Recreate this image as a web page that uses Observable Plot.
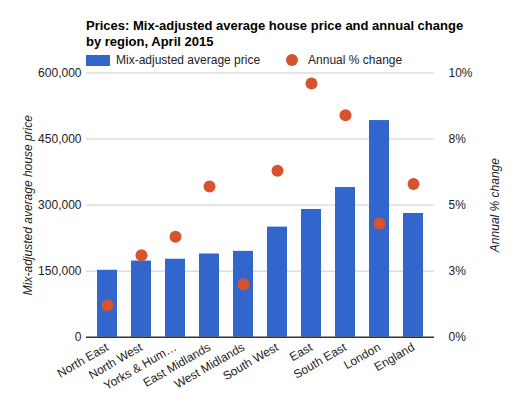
<!DOCTYPE html>
<html>
<head>
<meta charset="utf-8">
<script src="https://cdn.jsdelivr.net/npm/d3@7"></script>
<script src="https://cdn.jsdelivr.net/npm/@observablehq/plot@0.6"></script>
<style>
  html, body { margin: 0; padding: 0; background: #fff; }
  #wrap { position: relative; width: 525px; height: 397px; font-family: Arial, "Liberation Sans", sans-serif; color: #222; }
  #title { position: absolute; left: 86px; top: 18px; font-size: 13px; font-weight: bold; line-height: 16px; color: #000; }
  #legend { position: absolute; left: 86px; top: 52px; font-size: 12px; color: #222; display: flex; align-items: center; height: 16px; }
  .sw { display: inline-block; }
  #chart { position: absolute; left: 0; top: 0; }
</style>
</head>
<body>
<div id="wrap">
  <div id="chart"></div>
  <div id="title">Prices: Mix-adjusted average house price and annual change<br>by region, April 2015</div>
  <div id="legend">
    <span class="sw" style="width:24px;height:11px;background:#3366cc;margin-right:6px"></span>
    <span>Mix-adjusted average price</span>
    <span class="sw" style="width:12px;height:12px;border-radius:50%;background:#d6532e;margin-left:26px;margin-right:10px"></span>
    <span>Annual % change</span>
  </div>
</div>
<script>
const regions = ["North East", "North West", "Yorks & Hum…", "East Midlands", "West Midlands", "South West", "East", "South East", "London", "England"];
const avgPrice = [152000, 173000, 177000, 189000, 195000, 250000, 290000, 340000, 492000, 281000];
const annualChange = [1.2, 3.1, 3.8, 5.7, 2.0, 6.3, 9.6, 8.4, 4.3, 5.8];
const priceTicks = [0, 150000, 300000, 450000, 600000];

// right axis: 10% corresponds to 600,000 on the left axis
const pctToPrice = 60000;

const data = regions.map((r, i) => ({region: r, price: avgPrice[i], pct: annualChange[i]}));

const chart = Plot.plot({
  width: 525,
  height: 397,
  marginLeft: 86,
  marginRight: 91,
  marginTop: 72.5,
  marginBottom: 60.3,
  style: {fontFamily: "Arial, 'Liberation Sans', sans-serif", fontSize: "12px", color: "#222", background: "transparent"},
  x: {domain: regions, paddingInner: 0.4, paddingOuter: 0.2, label: null},
  y: {domain: [0, 600000], label: null},
  marks: [
    Plot.ruleY(priceTicks.slice(1), {stroke: "#cccccc", strokeWidth: 1}),
    Plot.barY(data, {x: "region", y: "price", fill: "#3366cc"}),
    Plot.ruleY([0], {stroke: "#333", strokeWidth: 1.5}),
    Plot.dot(data, {x: "region", y: d => d.pct * pctToPrice, r: 6, fill: "#d6532e"}),
    Plot.axisY({ticks: priceTicks, tickSize: 0, tickPadding: 5, tickFormat: d3.format(","), anchor: "left", label: null, fill: "#222"}),
    Plot.axisY({ticks: priceTicks, tickSize: 0, tickPadding: 14, anchor: "right", textAnchor: "start",
      tickFormat: d => Math.round(d / pctToPrice) + "%", label: null, fill: "#222"}),
    Plot.axisX({tickSize: 0, tickPadding: 9, tickRotate: -30, label: null, fill: "#222"}),
    Plot.text(["Mix-adjusted average house price"], {frameAnchor: "left", dx: -58, rotate: -90, textAnchor: "middle", fontStyle: "italic", fontSize: 12, fill: "#222"}),
    Plot.text(["Annual % change"], {frameAnchor: "right", dx: 61, rotate: -90, textAnchor: "middle", fontStyle: "italic", fontSize: 12, fill: "#222"})
  ]
});
document.getElementById("chart").appendChild(chart);
</script>
</body>
</html>
